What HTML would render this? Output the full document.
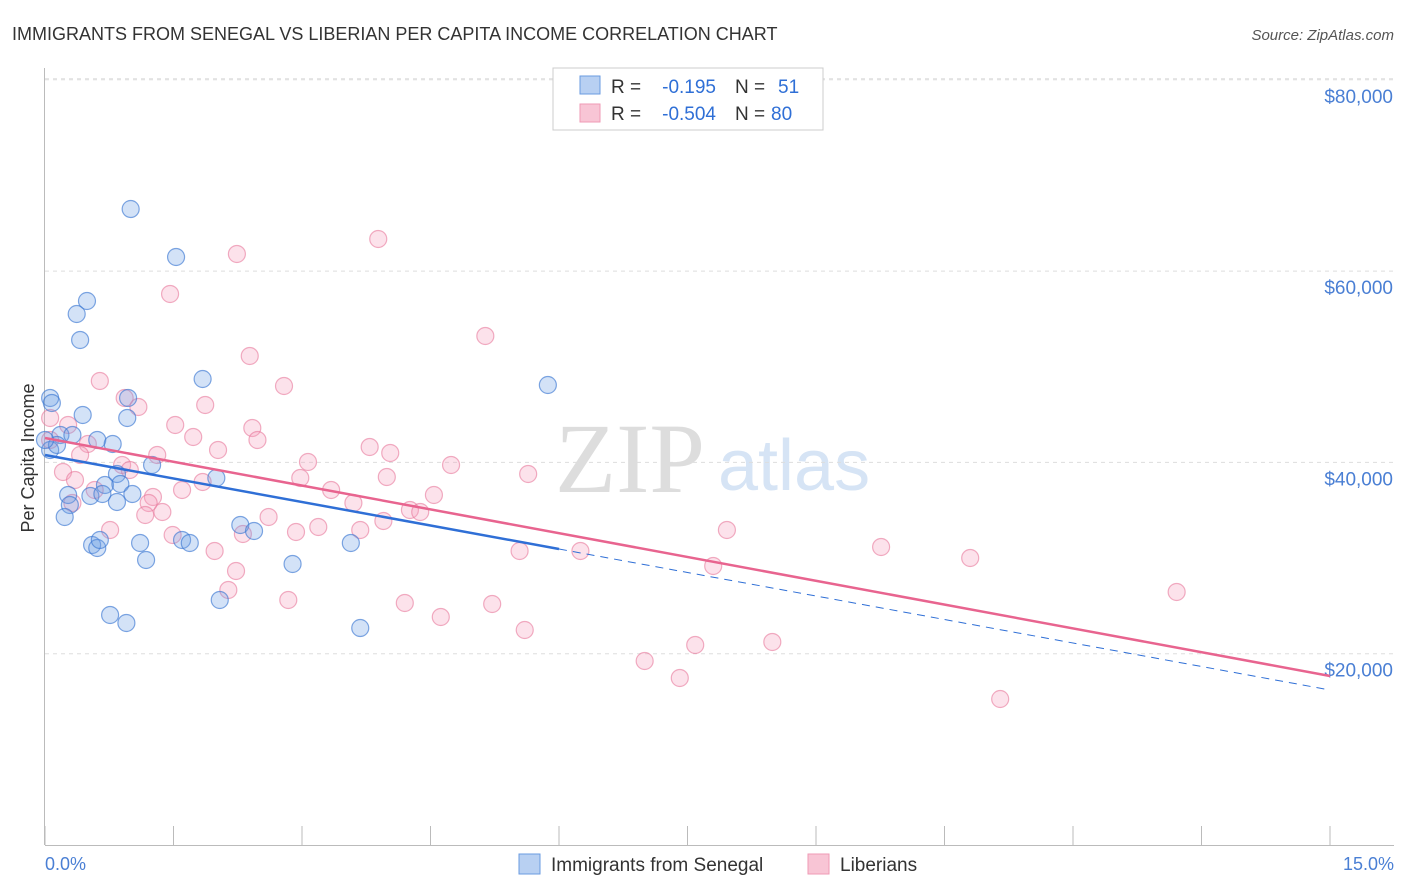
<!DOCTYPE html>
<html><head><meta charset="utf-8"><style>
body{margin:0;background:#fff;font-family:"Liberation Sans",sans-serif}
#wrap{position:relative;width:1406px;height:892px;overflow:hidden}
</style></head><body>
<div id="wrap">
<svg id="svg" width="1406" height="892" xmlns="http://www.w3.org/2000/svg">
<text x="12" y="40" font-size="18" fill="#333">IMMIGRANTS FROM SENEGAL VS LIBERIAN PER CAPITA INCOME CORRELATION CHART</text>
<text x="1394" y="40" font-size="15" fill="#555" font-style="italic" text-anchor="end">Source: ZipAtlas.com</text>
<text x="34" y="458" font-size="18" fill="#333" text-anchor="middle" transform="rotate(-90 34 458)">Per Capita Income</text>
<text x="555" y="492" font-size="100" fill="#ddd" font-family="Liberation Serif,serif">ZIP</text>
<text x="718" y="490" font-size="72" fill="#d6e4f5">atlas</text>
<g id="grid"></g><g id="axes"></g><g id="pts"></g><g id="lines"></g>
<text x="45" y="870" font-size="18" fill="#4a7fd4">0.0%</text>
<text x="1394" y="870" font-size="18" fill="#4a7fd4" text-anchor="end">15.0%</text>
<g>
<rect x="553" y="68" width="270" height="62" fill="#fff" stroke="#ccc"/>
<rect x="580" y="76" width="20" height="18" fill="#b8d0f2" stroke="#6a9be0"/>
<rect x="580" y="104" width="20" height="18" fill="#f8c5d5" stroke="#ef9ab5"/>
<text x="611" y="93" font-size="19" fill="#333">R =</text>
<text x="716" y="93" font-size="19" fill="#2f6fd6" text-anchor="end">-0.195</text>
<text x="735" y="93" font-size="19" fill="#333">N =</text>
<text x="778" y="93" font-size="19" fill="#2f6fd6">51</text>
<text x="611" y="120" font-size="19" fill="#333">R =</text>
<text x="716" y="120" font-size="19" fill="#2f6fd6" text-anchor="end">-0.504</text>
<text x="735" y="120" font-size="19" fill="#333">N =</text>
<text x="771" y="120" font-size="19" fill="#2f6fd6">80</text>
</g>
<g>
<rect x="519" y="854" width="21" height="20" fill="#b8d0f2" stroke="#6a9be0"/>
<text x="551" y="871" font-size="19" fill="#333">Immigrants from Senegal</text>
<rect x="808" y="854" width="21" height="20" fill="#f8c5d5" stroke="#ef9ab5"/>
<text x="840" y="871" font-size="19" fill="#333">Liberians</text>
</g>
</svg></div>
<script>
const yTicks=[20000,40000,60000,80000];
const yTickLabels=["$20,000","$40,000","$60,000","$80,000"];
const xTicks=[0,1.5,3,4.5,6,7.5,9,10.5,12,13.5,15];
const senegalX=[1.00,1.53,0.49,0.37,0.41,1.84,5.87,0.06,0.08,0.97,0.44,0.96,0.18,0.32,0.61,0.79,0.06,0.14,1.25,2.00,0.84,0.70,0.88,0.27,0.53,0.67,1.02,0.84,0.29,0.23,2.28,2.44,1.11,0.55,0.61,1.60,1.69,3.57,2.89,1.18,2.04,0.76,0.95,3.68,0.0,0.64];
const senegalY=[66490,61475,56874,55515,52797,48719,48092,46734,46211,46734,44957,44643,42866,42866,42343,41925,41297,41820,39729,38370,38789,37638,37743,36593,36488,36697,36697,35861,35547,34292,33456,32829,31574,31365,31051,31888,31574,31574,29379,29797,25615,24047,23210,22687,42343,31888];
const liberX=[3.89,2.24,1.46,5.14,2.39,2.79,0.64,0.93,1.09,1.87,0.06,0.27,1.52,2.42,1.73,2.48,0.50,3.79,4.03,2.02,1.31,0.41,3.07,4.74,0.90,0.99,0.21,5.64,3.99,2.98,1.84,0.35,1.60,0.58,3.34,4.54,1.26,1.21,3.60,0.32,4.26,4.38,1.37,1.17,2.61,3.95,3.19,7.96,2.93,0.76,2.31,3.68,1.49,9.76,5.54,6.25,1.98,10.80,7.80,2.23,2.14,13.21,2.84,4.20,5.22,4.62,5.60,8.49,7.59,7.00,7.41,11.15,0.06];
const liberY=[63357,61789,57607,53216,51125,47988,48511,46734,45793,46002,44643,43911,43911,43597,42657,42343,41925,41611,40984,41297,40775,40775,40043,39729,39729,39206,38997,38789,38475,38370,37952,38161,37116,37116,37116,36593,36384,35756,35756,35756,35024,34815,34815,34501,34292,33874,33247,32934,32724,32934,32515,32934,32410,31156,30738,30738,30738,30006,29170,28647,26660,26451,25615,25301,25197,23838,22478,21224,20910,19237,17460,15264,42343];
const senegalTrend=[40775,16205];
const liberTrend=[42552,17669];
const NS="http://www.w3.org/2000/svg";
const X0=45,X1=1330,Y0=845;
function sx(v){return X0+(X1-X0)*v/15;}
function sy(v){return Y0-v*191.3/20000;}
function mk(tag,attrs,parent){const e=document.createElementNS(NS,tag);for(const k in attrs)e.setAttribute(k,attrs[k]);document.getElementById(parent).appendChild(e);return e;}
yTicks.forEach((t,i)=>{
 const l=mk('line',{x1:45,x2:1394,y1:sy(t),y2:sy(t),stroke:'#ddd','stroke-dasharray':'4,4'},'grid');
 
 
 const tx=mk('text',{x:1393,y:sy(t)+23,'font-size':19,fill:'#4a7fd4','text-anchor':'end'},'grid');
 tx.textContent=yTickLabels[i];
 
 
});
const topLine=mk('line',{x1:45,x2:1394,y1:sy(80000)-1,y2:sy(80000)-1,stroke:'#ddd','stroke-dasharray':'4,4'},'grid');


const ya=mk('line',{x1:44.5,x2:44.5,y1:68,y2:845,stroke:'#bbb'},'axes');


const xa=mk('line',{x1:45,x2:1394,y1:845.5,y2:845.5,stroke:'#bbb'},'axes');


xTicks.forEach(t=>{
 const l=mk('line',{x1:sx(t),x2:sx(t),y1:826,y2:845,stroke:'#bbb'},'axes');
 
 
});
liberX.forEach((x,i)=>{
 const c=mk('circle',{cx:sx(x),cy:sy(liberY[i]),r:8.5,fill:'rgba(244,160,188,0.3)',stroke:'rgba(232,120,155,0.6)','stroke-width':1.2},'pts');
 
 
});
senegalX.forEach((x,i)=>{
 const c=mk('circle',{cx:sx(x),cy:sy(senegalY[i]),r:8.5,fill:'rgba(110,160,230,0.3)',stroke:'rgba(60,120,210,0.65)','stroke-width':1.2},'pts');
 
 
});
const bAt=x=>senegalTrend[0]+(senegalTrend[1]-senegalTrend[0])*x/15;
const bs=mk('line',{x1:sx(0),y1:sy(bAt(0)),x2:sx(6),y2:sy(bAt(6)),stroke:'#2f6fd6','stroke-width':2.5},'lines');


const bd=mk('line',{x1:sx(6),y1:sy(bAt(6)),x2:sx(15),y2:sy(bAt(15)),stroke:'#2f6fd6','stroke-width':1,'stroke-dasharray':'8,6'},'lines');


const pl=mk('line',{x1:sx(0),y1:sy(liberTrend[0]),x2:sx(15),y2:sy(liberTrend[1]),stroke:'#e8648f','stroke-width':2.5},'lines');


</script>
</body></html>
